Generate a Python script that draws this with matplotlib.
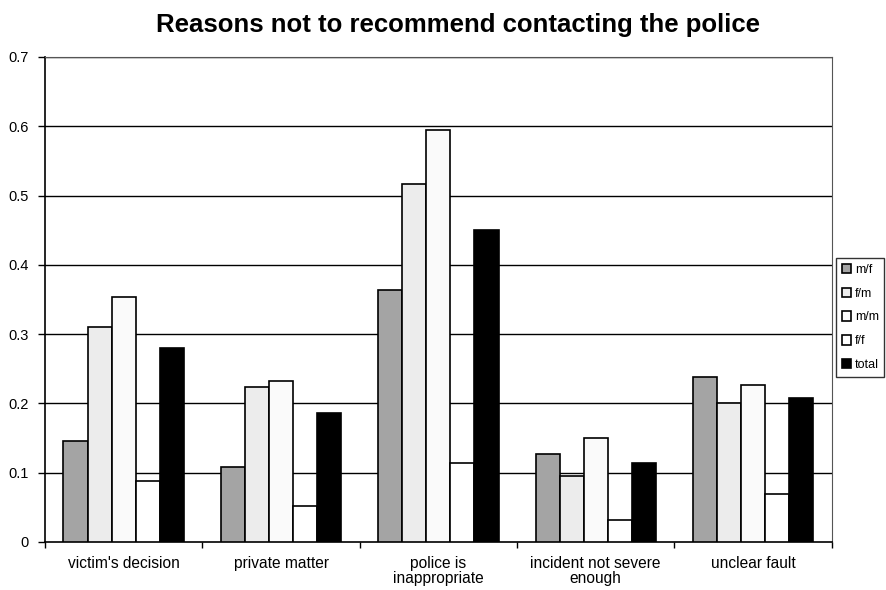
import numpy as np
import matplotlib
matplotlib.use("Agg")
import matplotlib.pyplot as plt

plt.rcParams['font.family'] = ['Liberation Sans', 'DejaVu Sans']

categories = ["victim's decision", "private matter", "police is\ninappropriate",
              "incident not severe\nenough", "unclear fault"]
series_names = ["m/f", "f/m", "m/m", "f/f", "total"]
m_f = [0.146, 0.108, 0.363, 0.127, 0.238]
f_m = [0.310, 0.223, 0.517, 0.095, 0.200]
m_m = [0.353, 0.232, 0.594, 0.150, 0.226]
f_f = [0.088, 0.052, 0.114, 0.032, 0.069]
total = [0.280, 0.186, 0.450, 0.114, 0.208]
yticks = [0, 0.1, 0.2, 0.3, 0.4, 0.5, 0.6, 0.7]
ytick_labels = ["0", "0.1", "0.2", "0.3", "0.4", "0.5", "0.6", "0.7"]

values = [m_f, f_m, m_m, f_f, total]
faces = ["#a4a4a4", "#ececec", "#fafafa", "#ffffff", "#000000"]

fig = plt.figure(figsize=(8.87, 5.90), dpi=100)
ax = fig.add_axes([0.0507, 0.0814, 0.887, 0.822])

x = np.arange(len(categories))
bw = 0.153
for i, (vals, fc) in enumerate(zip(values, faces)):
    ax.bar(x + (i - 2) * bw, vals, width=bw, color=fc, edgecolor="black",
           linewidth=1.2, label=series_names[i], zorder=3)

ax.set_xlim(-0.5, len(categories) - 0.5)
ax.set_ylim(0, 0.7)
ax.set_yticks(yticks)
ax.set_yticklabels(ytick_labels, fontsize=10.5)
for y in yticks[1:]:
    ax.axhline(y, color="black", linewidth=1.0, zorder=1)

ax.set_xticks(x)
ax.set_xticklabels(categories, fontsize=11.2, linespacing=1.0)
ax.tick_params(axis="x", length=0, pad=10)
ax.set_xticks(np.arange(len(categories) + 1) - 0.5, minor=True)
ax.tick_params(axis="x", which="minor", length=4, direction="out", width=1)
ax.tick_params(axis="y", length=5, direction="out", width=1, pad=7)

for s in ["top", "right"]:
    ax.spines[s].set_color("#555555")
    ax.spines[s].set_linewidth(0.8)
ax.spines["left"].set_linewidth(1.2)
ax.spines["bottom"].set_linewidth(1.2)

fig.suptitle("Reasons not to recommend contacting the police", fontsize=18.5,
             fontweight="bold", x=0.516, y=0.978)

leg = fig.legend(loc="center left", bbox_to_anchor=(0.9425, 0.462),
                 fontsize=9, frameon=True, fancybox=False, edgecolor="black",
                 handlelength=0.75, handleheight=0.75, handletextpad=0.3,
                 labelspacing=0.95, borderpad=0.45, borderaxespad=0)
leg.get_frame().set_linewidth(1.0)

fig.savefig("out.png", dpi=100)
